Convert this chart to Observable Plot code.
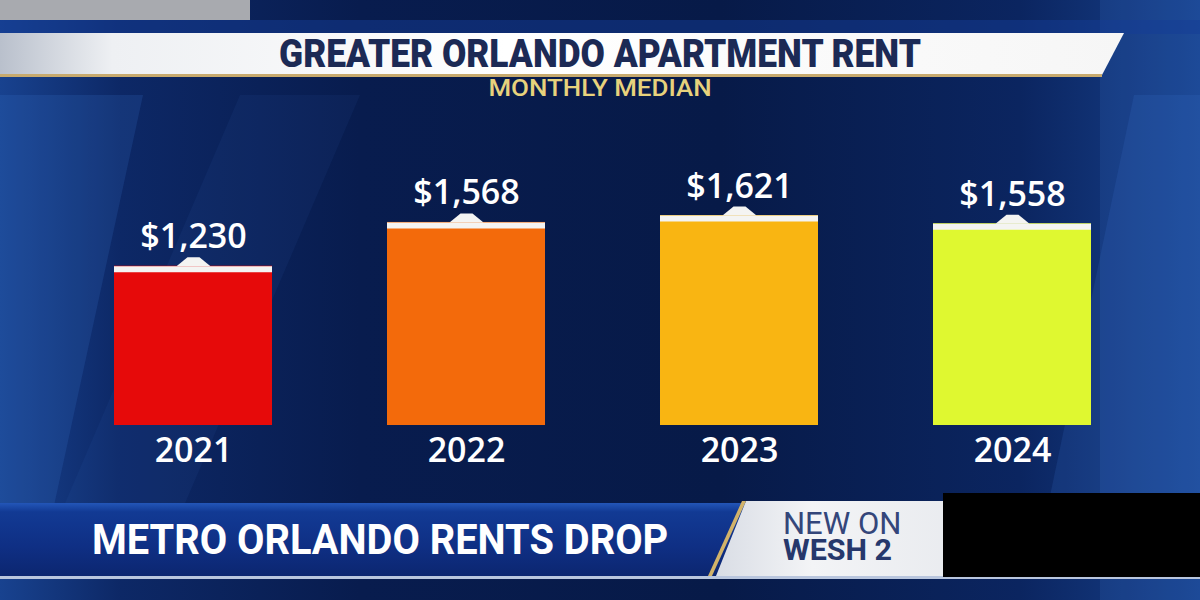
<!DOCTYPE html>
<html>
<head>
<meta charset="utf-8">
<script src="https://cdn.jsdelivr.net/npm/d3@7"></script>
<script src="https://cdn.jsdelivr.net/npm/@observablehq/plot@0.6"></script>
<style>
  html, body { margin: 0; padding: 0; }
  body { width: 1200px; height: 600px; overflow: hidden; position: relative;
    background: linear-gradient(90deg, #18428f 0%, #0d2866 10%, #081c4e 30%, #071a48 60%, #0b2560 85%, #17418c 100%);
    font-family: "Open Sans", sans-serif; }
  .abs { position: absolute; }
  .shard { position: absolute; }
  #chart { position: absolute; left: 0; top: 110px; }
  #titlebar { left: 0; top: 33px; width: 1124px; height: 42px;
    clip-path: polygon(0 0, 100% 0, calc(100% - 22px) 100%, 0 100%);
    background: linear-gradient(90deg, #b9c0cc 0%, #eef0f3 10%, #ffffff 45%, #f6f6f6 100%); }
  #titleline { left: 0; top: 74px; width: 1102px; height: 3px; background: #c7aa6e; }
  #title { left: 0; width: 1200px; top: 33px; height: 42px; line-height: 42px; text-align: center;
    font-family: Roboto, sans-serif; font-weight: 900; font-size: 38px; color: #1c2a55;
    transform: scaleX(0.93); }
  #subtitle { left: 0; width: 1200px; top: 76px; height: 24px; line-height: 24px; text-align: center;
    font-family: Roboto, sans-serif; font-weight: 500; font-size: 24px; color: #e7d27c;
    transform: scaleX(1.08); }
  #lower { left: 0; top: 503px; width: 760px; height: 73px;
    background: linear-gradient(180deg, #2356b8 0%, #123a94 12%, #0f2f84 60%, #0c2670 100%); }
  #lowertext { left: 92px; top: 503px; height: 73px; line-height: 73px; font-family: Roboto, sans-serif;
    font-weight: 700; font-size: 43px; color: #ffffff; transform-origin: left center; transform: scaleX(0.925); white-space: nowrap; }
  #newon { left: 716px; top: 501px; width: 240px; height: 75px;
    clip-path: polygon(30px 0, 100% 0, 100% 100%, 0 100%);
    background: linear-gradient(90deg, #d9dde5 0%, #f3f4f6 40%, #e9ebef 100%); }
  #gold { left: 708px; top: 501px; width: 38px; height: 75px;
    clip-path: polygon(34px 0, 38px 0, 4px 100%, 0 100%); background: #d2b36a; }
  .nw { left: 783px; white-space: nowrap; font-family: Roboto, sans-serif; line-height: 24px; height: 24px; transform-origin: left center; }
  #baseline { left: 0; top: 576px; width: 1200px; height: 3px; background: #b9c6de; }
  #black { left: 943px; top: 493px; width: 257px; height: 84px; background: #000; }
  #gray { left: 0; top: 0; width: 250px; height: 20px; background: #a8aaaf; }
</style>
</head>
<body>
<div class="shard" style="left:0;top:95px;width:260px;height:420px;background:rgba(60,120,210,0.18);clip-path:polygon(0 0,55% 0,20% 100%,0 100%);"></div>
<div class="shard" style="left:60px;top:95px;width:300px;height:420px;background:rgba(60,120,210,0.08);clip-path:polygon(60% 0,100% 0,40% 100%,0 100%);"></div>
<div class="shard" style="left:980px;top:95px;width:220px;height:420px;background:rgba(60,120,210,0.16);clip-path:polygon(70% 0,100% 0,100% 100%,30% 100%);"></div>
<div class="shard" style="left:1100px;top:0;width:100px;height:600px;background:rgba(70,130,220,0.15);"></div>
<div class="shard" style="left:0;top:20px;width:1200px;height:14px;background:rgba(20,60,150,0.5);"></div>

<div id="gray" class="abs"></div>
<div id="titlebar" class="abs"></div>
<div id="titleline" class="abs"></div>
<div id="title" class="abs">GREATER ORLANDO APARTMENT RENT</div>
<div id="subtitle" class="abs">MONTHLY MEDIAN</div>
<div id="chart"></div>
<div id="lower" class="abs"></div>
<div id="lowertext" class="abs">METRO ORLANDO RENTS DROP</div>
<div id="newon" class="abs"></div>
<div id="gold" class="abs"></div>
<div class="abs nw" style="top:512px;font-size:31px;font-weight:400;color:#34467a;">NEW ON</div>
<div class="abs nw" style="top:538px;font-size:29px;font-weight:700;color:#26386c;transform:scaleX(1.05);">WESH 2</div>
<div id="baseline" class="abs"></div>
<div id="black" class="abs"></div>

<script>
const years = ["2021", "2022", "2023", "2024"];
const rents = [1230, 1568, 1621, 1558];
const barColors = ["#e60a0a", "#f36a0b", "#f9b512", "#dff830"];

const data = years.map((year, i) => ({year, rent: rents[i], color: barColors[i]}));
const fmt = d3.format("$,");

// flat pointer triangle atop each bar
const pointer = {
  draw(context, size) {
    context.moveTo(-17, 0);
    context.lineTo(-6, -9);
    context.lineTo(6, -9);
    context.lineTo(17, 0);
    context.closePath();
  }
};

const chart = Plot.plot({
  width: 1200,
  height: 370,
  marginTop: 56,
  marginBottom: 55,
  marginLeft: 58,
  marginRight: 53,
  x: {domain: years, paddingInner: 0.42, paddingOuter: 0.2, label: null, tickSize: 0, tickPadding: 12},
  y: {domain: [0, 2000], axis: null},
  color: {type: "identity"},
  style: {background: "transparent", color: "white", fontFamily: "Open Sans", fontSize: "34px", fontWeight: 600},
  marks: [
    Plot.barY(data, {x: "year", y: "rent", fill: "color"}),
    Plot.tickY(data, {x: "year", y: "rent", stroke: "#f4f4f2", strokeWidth: 6, dy: 3}),
    Plot.dot(data, {x: "year", y: "rent", symbol: pointer, r: 5, fill: "#f4f4f2", stroke: null}),
    Plot.text(data, {x: "year", y: "rent", text: d => fmt(d.rent), dy: -18, lineAnchor: "bottom",
      fill: "white", fontSize: 34, fontWeight: 600})
  ]
});
document.getElementById("chart").appendChild(chart);
</script>
</body>
</html>
